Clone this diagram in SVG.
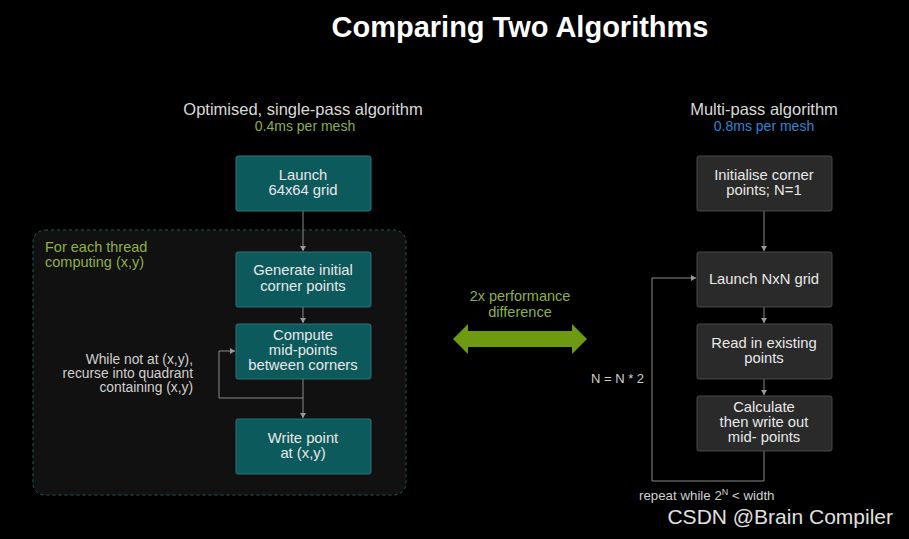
<svg xmlns="http://www.w3.org/2000/svg" width="909" height="539" viewBox="0 0 909 539">
<defs>
<style>
text{font-family:"Liberation Sans","DejaVu Sans",Arial,sans-serif;}
.title{font-size:29px;font-weight:bold;fill:#ffffff;}
.sub{font-size:16.5px;fill:#d9d9d9;}
.bt{font-size:14.8px;fill:#e8e8e8;text-anchor:middle;}
.lbl{font-size:13.8px;fill:#d0d0d0;}
.teal{fill:#0d5a5d;stroke:#2a7478;stroke-width:1;}
.gray{fill:#2a2a2a;stroke:#4a4a4a;stroke-width:1;}
.conn{fill:none;stroke:#8a8a8a;stroke-width:1;}
</style>
<marker id="ah" markerWidth="6" markerHeight="6" refX="5" refY="3" orient="auto" markerUnits="userSpaceOnUse">
<path d="M0,0 L5,3 L0,6 z" fill="#9a9a9a"/>
</marker>
</defs>
<rect width="909" height="539" fill="#000000"/>
<text class="title" x="520" y="37" text-anchor="middle">Comparing Two Algorithms</text>
<text class="sub" x="303" y="115" text-anchor="middle">Optimised, single-pass algorithm</text>
<text x="305" y="131" text-anchor="middle" style="font-size:14px;fill:#8fae4c">0.4ms per mesh</text>
<text class="sub" x="764" y="115" text-anchor="middle">Multi-pass algorithm</text>
<text x="764" y="131" text-anchor="middle" style="font-size:14px;fill:#2f86d8">0.8ms per mesh</text>

<g id="container">
<rect x="33" y="230" width="373" height="265" rx="12" fill="#111111" stroke="#1f5c5c" stroke-width="1" stroke-dasharray="3,3"/>
<text x="45" y="252" style="font-size:14.5px;fill:#8fae4c">For each thread</text>
<text x="45" y="267" style="font-size:14.5px;fill:#8fae4c">computing (x,y)</text>
</g>

<g id="connectors">
<line class="conn" x1="303" y1="211" x2="303" y2="251" marker-end="url(#ah)"/>
<line class="conn" x1="303" y1="307" x2="303" y2="323" marker-end="url(#ah)"/>
<line class="conn" x1="303" y1="379" x2="303" y2="418" marker-end="url(#ah)"/>
<polyline class="conn" points="303,398 219,398 219,351 235,351" marker-end="url(#ah)"/>
<line class="conn" x1="764" y1="211" x2="764" y2="251" marker-end="url(#ah)"/>
<line class="conn" x1="764" y1="307" x2="764" y2="323" marker-end="url(#ah)"/>
<line class="conn" x1="764" y1="379" x2="764" y2="395" marker-end="url(#ah)"/>
<polyline class="conn" points="764,451 764,481 652,481 652,278 696,278" marker-end="url(#ah)"/>
</g>

<g id="launch64">
<rect class="teal" x="236" y="156" width="135" height="55" rx="2"/>
<text class="bt" x="303" y="180">Launch</text>
<text class="bt" x="303" y="195">64x64 grid</text>
</g>
<g id="generate">
<rect class="teal" x="236" y="252" width="135" height="55" rx="2"/>
<text class="bt" x="303" y="275">Generate initial</text>
<text class="bt" x="303" y="291">corner points</text>
</g>
<g id="compute">
<rect class="teal" x="236" y="324" width="135" height="55" rx="2"/>
<text class="bt" x="303" y="340">Compute</text>
<text class="bt" x="303" y="355">mid-points</text>
<text class="bt" x="303" y="370">between corners</text>
</g>
<g id="writepoint">
<rect class="teal" x="236" y="419" width="135" height="55" rx="2"/>
<text class="bt" x="303" y="443">Write point</text>
<text class="bt" x="303" y="458">at (x,y)</text>
</g>
<g id="looplabel">
<text class="lbl" x="193" y="364" text-anchor="end">While not at (x,y),</text>
<text class="lbl" x="193" y="378" text-anchor="end">recurse into quadrant</text>
<text class="lbl" x="193" y="392" text-anchor="end">containing (x,y)</text>
</g>

<g id="perf">
<text x="520" y="301" text-anchor="middle" style="font-size:14.5px;fill:#8fae4c">2x performance</text>
<text x="520" y="317" text-anchor="middle" style="font-size:14.5px;fill:#8fae4c">difference</text>
<polygon points="453,339 468,324 468,331 572,331 572,324 587,339 572,354 572,347 468,347 468,354" fill="#6e9a12"/>
</g>

<g id="init">
<rect class="gray" x="697" y="156" width="135" height="55" rx="2"/>
<text class="bt" x="764" y="180">Initialise corner</text>
<text class="bt" x="764" y="195">points; N=1</text>
</g>
<g id="launchNN">
<rect class="gray" x="697" y="252" width="135" height="55" rx="2"/>
<text class="bt" x="764" y="284">Launch NxN grid</text>
</g>
<g id="read">
<rect class="gray" x="697" y="324" width="135" height="55" rx="2"/>
<text class="bt" x="764" y="348">Read in existing</text>
<text class="bt" x="764" y="363">points</text>
</g>
<g id="calc">
<rect class="gray" x="697" y="396" width="135" height="55" rx="2"/>
<text class="bt" x="764" y="412">Calculate</text>
<text class="bt" x="764" y="427">then write out</text>
<text class="bt" x="764" y="442">mid- points</text>
</g>
<g id="nlabel">
<text class="lbl" x="591" y="383" style="font-size:13px">N = N * 2</text>
</g>
<g id="repeatlabel">
<text class="lbl" x="639" y="500" style="font-size:13.3px">repeat while 2<tspan dy="-5" style="font-size:9px">N</tspan><tspan dy="5"> &lt; width</tspan></text>
</g>
<text x="893" y="524" text-anchor="end" style="font-size:21px;fill:#e0e0e0">CSDN @Brain Compiler</text>
</svg>
